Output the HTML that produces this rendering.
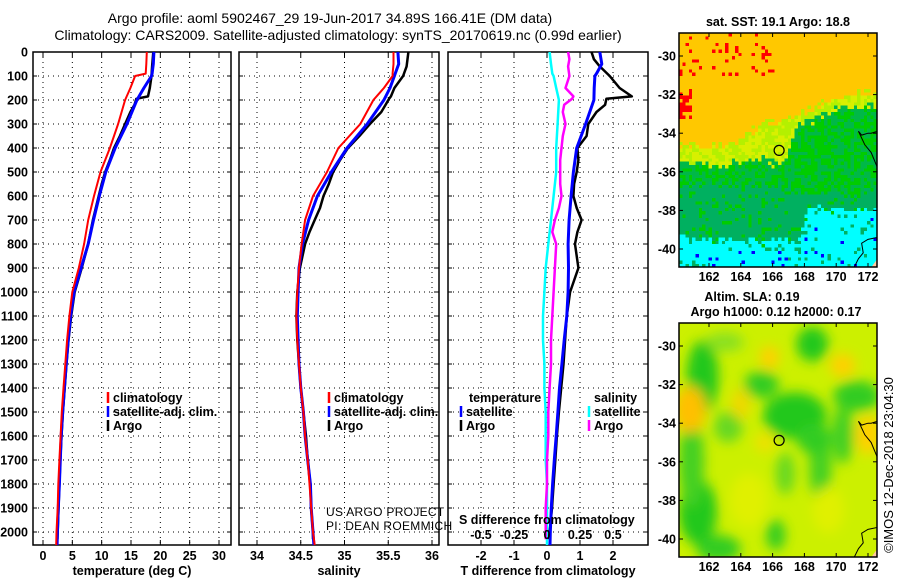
<!DOCTYPE html>
<html><head><meta charset="utf-8">
<style>
html,body{margin:0;padding:0;background:#fff;}
svg{display:block;font-family:"Liberation Sans",sans-serif;}
.b{font-weight:bold;font-size:12.5px;}
.t{font-size:14px;}
</style></head>
<body>
<svg id="c" width="900" height="580" viewBox="0 0 900 580">
<defs>
<filter id="bl" x="-30%" y="-30%" width="160%" height="160%"><feGaussianBlur stdDeviation="6"/></filter>
<clipPath id="m1clip"><rect x="679" y="33" width="198" height="234"/></clipPath>
<clipPath id="m2clip"><rect x="679" y="323" width="198" height="234"/></clipPath>
</defs>
<text class="t" x="330" y="23" text-anchor="middle">Argo profile: aoml 5902467_29 19-Jun-2017 34.89S 166.41E (DM data)</text>
<text class="t" x="338" y="40" text-anchor="middle">Climatology: CARS2009. Satellite-adjusted climatology: synTS_20170619.nc (0.99d earlier)</text>
<g id="plots"></g>
</svg>
<script>
// ---------- data ----------
const depthsT = [0,50,90,100,150,200,300,400,500,600,700,800,900,1000,1100,1200,1300,1400,1500,1600,1700,1800,1900,2000,2054];
const tempClim = [17.7,17.6,17.5,15.7,14.9,14.0,12.8,11.4,9.8,8.7,7.7,7.0,6.1,5.0,4.5,4.1,3.8,3.5,3.2,3.0,2.8,2.6,2.5,2.3,2.25];
const tempSat  = [18.9,18.8,18.6,18.5,17.2,16.0,14.3,12.3,10.7,9.6,8.6,7.7,6.5,5.3,4.7,4.3,3.95,3.65,3.35,3.1,2.95,2.8,2.6,2.45,2.4];
const depthsA = [0,30,60,100,150,185,195,220,250,300,350,400,450,500,550,600,650,700,750,800,900,1000,1100,1200,1300,1400,1500,1600,1700,1800,1900,2000,2030];
const tempArgo = [18.8,18.7,18.6,18.5,18.2,17.9,15.9,15.6,14.9,14.0,13.1,12.1,11.4,10.6,10.0,9.5,9.0,8.5,8.1,7.7,6.6,5.4,4.8,4.35,4.0,3.7,3.4,3.15,2.95,2.8,2.65,2.5,2.45];
const salClim = [35.56,35.56,35.55,35.55,35.45,35.33,35.18,34.93,34.80,34.64,34.55,34.51,34.48,34.46,34.45,34.46,34.48,34.50,34.53,34.55,34.58,34.60,34.62,34.64,34.66];
const salSat  = [35.61,35.62,35.58,35.57,35.52,35.45,35.26,35.03,34.85,34.69,34.59,34.52,34.48,34.47,34.46,34.47,34.48,34.50,34.53,34.55,34.58,34.61,34.62,34.64,34.65];
const salArgo = [35.73,35.72,35.71,35.67,35.57,35.53,35.51,35.47,35.42,35.29,35.17,35.04,34.95,34.87,34.82,34.76,34.72,34.66,34.60,34.55,34.49,34.46,34.45,34.46,34.48,34.50,34.53,34.56,34.58,34.61,34.62,34.64,34.64];
const dTsat  = [1.6,1.66,1.5,1.45,1.43,1.42,1.17,0.9,0.8,0.73,0.67,0.64,0.65,0.64,0.6,0.52,0.45,0.38,0.33,0.28,0.22,0.17,0.13,0.1,0.09];
const dSsat  = [0.02,0.03,0.04,0.05,0.07,0.09,0.08,0.07,0.07,0.05,0.03,0.01,-0.01,-0.02,-0.03,-0.03,-0.02,-0.02,-0.01,-0.01,-0.01,0.0,0.0,0.0,0.0];
const dTargo = [1.35,1.42,1.6,1.9,2.2,2.57,1.8,1.76,1.5,1.25,1.2,0.92,0.95,0.9,0.82,0.8,0.9,1.05,0.92,0.85,0.95,0.7,0.6,0.55,0.5,0.43,0.36,0.3,0.25,0.2,0.15,0.08,0.06];
const dSargo = [0.16,0.17,0.16,0.17,0.14,0.2,0.19,0.13,0.12,0.14,0.12,0.11,0.1,0.1,0.1,0.11,0.09,0.06,0.04,0.07,0.06,0.05,0.04,0.03,0.03,0.02,0.01,0.01,0.0,0.0,-0.01,-0.01,-0.01];
const depthTicks = [0,100,200,300,400,500,600,700,800,900,1000,1100,1200,1300,1400,1500,1600,1700,1800,1900,2000];
const tempTicks = [0,5,10,15,20,25,30];
const salTicks = [34,34.5,35,35.5,36];
const dTTicks = [-2,-1,0,1,2];
const dSTicks = [-0.5,-0.25,0,0.25,0.5];
const dSTickLabels = ["-0.5","-0.25","0","0.25","0.5"];
const latTicks = [-30,-32,-34,-36,-38,-40];
const lonTicks = [162,164,166,168,170,172];
const argoLon = 166.41, argoLat = -34.89;

// ---------- helpers ----------
const NS='http://www.w3.org/2000/svg';
const root=document.getElementById('plots');
function mk(tag,attrs,parent){const e=document.createElementNS(NS,tag);for(const k in attrs)e.setAttribute(k,attrs[k]);(parent||root).appendChild(e);return e;}
const Y0=52, Y1=545;
const yD = d => Y0 + d*0.24;
function lin(d0,d1,r0,r1){return v=>r0+(v-d0)*(r1-r0)/(d1-d0);}

function panel(name,x0,x1,xs,ticks,labels,title){
  const g=mk('g',{});
  
  
  depthTicks.forEach(d=>{const l=mk('line',{x1:x0,x2:x1,y1:yD(d),y2:yD(d),stroke:'#000','stroke-width':1,'stroke-dasharray':'1,4'},g);
    
    mk('line',{x1:x0,x2:x0+4,y1:yD(d),y2:yD(d),stroke:'#000'},g);mk('line',{x1:x1-4,x2:x1,y1:yD(d),y2:yD(d),stroke:'#000'},g);});
  ticks.forEach((v,i)=>{const x=xs(v);
    const l=mk('line',{x1:x,x2:x,y1:Y0,y2:Y1,stroke:'#000','stroke-width':1,'stroke-dasharray':'1,4'},g);
    
    mk('line',{x1:x,x2:x,y1:Y1-5,y2:Y1,stroke:'#000'},g);mk('line',{x1:x,x2:x,y1:Y0,y2:Y0+5,stroke:'#000'},g);
    const t=mk('text',{x:x,y:560,'text-anchor':'middle',class:'b'},g);t.textContent=labels[i];
    });
  const fr=mk('rect',{x:x0,y:Y0,width:x1-x0,height:Y1-Y0,fill:'none',stroke:'#000','stroke-width':1.5},g);
  
  const tt=mk('text',{x:(x0+x1)/2,y:575,'text-anchor':'middle',class:'b'},g);tt.textContent=title;
  
  return g;
}
function series(g,name,vals,depths,xs,color,w){
  const pts=vals.map((v,i)=>xs(v).toFixed(1)+','+yD(depths[i]).toFixed(1)).join(' ');
  const p=mk('polyline',{points:pts,fill:'none',stroke:color,'stroke-width':w,'stroke-linejoin':'round'},g);
  
  
}
function legend(g,x,y,items){
  items.forEach((it,i)=>{
    mk('line',{x1:x,x2:x,y1:y+i*14-10,y2:y+i*14+1,stroke:it[1],'stroke-width':2.5},g);
    const t=mk('text',{x:x+5,y:y+i*14,class:'b'},g);t.textContent=it[0];
    
  });
}

depthTicks.forEach(d=>{const t=mk('text',{x:28,y:yD(d)+4.5,'text-anchor':'end',class:'b'});t.textContent=d;
  });

const xT=lin(0,30,43,219);
const g1=panel('temperature-panel',33,231,xT,tempTicks,tempTicks.map(String),'temperature (deg C)');
series(g1,'temp-argo-line',tempArgo,depthsA,xT,'#000',2.5);
series(g1,'temp-satellite-line',tempSat,depthsT,xT,'#0000ff',3);
series(g1,'temp-climatology-line',tempClim,depthsT,xT,'#ff0000',2);
legend(g1,108,402,[['climatology','#ff0000'],['satellite-adj. clim.','#0000ff'],['Argo','#000']]);

const xS=lin(34,36,257,432);
const g2=panel('salinity-panel',239,439,xS,salTicks,['34','34.5','35','35.5','36'],'salinity');
series(g2,'sal-argo-line',salArgo,depthsA,xS,'#000',2.5);
series(g2,'sal-satellite-line',salSat,depthsT,xS,'#0000ff',3);
series(g2,'sal-climatology-line',salClim,depthsT,xS,'#ff0000',2);
legend(g2,329,402,[['climatology','#ff0000'],['satellite-adj. clim.','#0000ff'],['Argo','#000']]);
[['US ARGO PROJECT',516],['PI: DEAN ROEMMICH',530]].forEach(a=>{const t=mk('text',{x:326,y:a[1],'font-size':'12px','letter-spacing':'0.3','fill':'#000'},g2);t.textContent=a[0];
  });

const xdT=lin(0,2,547,613);
const xdS=lin(0,0.5,547,613);
const g3=panel('difference-panel',448,648,xdT,dTTicks,dTTicks.map(String),'T difference from climatology');
series(g3,'dS-satellite-line',dSsat,depthsT,xdS,'#00ffff',2.5);
series(g3,'dS-argo-line',dSargo,depthsA,xdS,'#ff00ff',2.5);
series(g3,'dT-argo-line',dTargo,depthsA,xdT,'#000',2.5);
series(g3,'dT-satellite-line',dTsat,depthsT,xdT,'#0000ff',3);
{const t=mk('text',{x:469,y:402,class:'b'},g3);t.textContent='temperature';}
{const t=mk('text',{x:594,y:402,class:'b'},g3);t.textContent='salinity';}
legend(g3,461,416,[['satellite','#0000ff'],['Argo','#000']]);
legend(g3,589,416,[['satellite','#00ffff'],['Argo','#ff00ff']]);
{const t=mk('text',{x:459,y:524,class:'b'},g3);t.textContent='S difference from climatology';}
dSTicks.forEach((v,i)=>{const t=mk('text',{x:xdS(v),y:539,'text-anchor':'middle',class:'b'},g3);t.textContent=dSTickLabels[i];
  });

// ---------- maps ----------
const mx=lin(162,172,709,868);
function hash(a,b){const s=Math.sin(a*127.1+b*311.7)*43758.5453;return s-Math.floor(s);}
function interp(xs,ys,x){if(x<=xs[0])return ys[0];for(let i=1;i<xs.length;i++){if(x<=xs[i])return ys[i-1]+(ys[i]-ys[i-1])*(x-xs[i-1])/(xs[i]-xs[i-1]);}return ys[ys.length-1];}
function mapFrame(name,top){
  const bot=top+234, my=lin(-30,-40,top+23,top+216);
  const g=mk('g',{});
  
  
  return {g,my,top,bot};
}
function mapAxes(M,clipId){
  const {g,my,top,bot}=M;
  const cg=mk('g',{'clip-path':'url(#'+clipId+')'},g);
  mk('polygon',{points:`${mx(172.2)},${my(-40.95)} ${mx(172.6)},${my(-40.5)} ${mx(172.6)},${my(-40.95)}`,fill:'#ffc8a0'},cg);
  mk('polyline',{points:[[171.4,-33.9],[171.6,-34.1],[172.0,-34.0],[172.2,-34.0],[172.6,-33.9]].map(p=>mx(p[0])+','+my(p[1])).join(' '),fill:'none',stroke:'#000'},cg);
  mk('polyline',{points:[[171.4,-33.9],[171.8,-34.6],[172.2,-35.0],[172.5,-35.6],[172.6,-35.8]].map(p=>mx(p[0])+','+my(p[1])).join(' '),fill:'none',stroke:'#000'},cg);
  mk('polyline',{points:[[171.1,-41],[171.4,-40.5],[171.7,-40.2],[171.6,-39.7],[172.0,-39.5],[172.6,-39.4]].map(p=>mx(p[0])+','+my(p[1])).join(' '),fill:'none',stroke:'#000'},cg);
  const c=mk('circle',{cx:mx(argoLon),cy:my(argoLat),r:5,fill:'none',stroke:'#000','stroke-width':1.2},g);
  
  mk('rect',{x:679,y:top,width:198,height:234,fill:'none',stroke:'#000','stroke-width':1.5},g);
  latTicks.forEach(v=>{const y=my(v);mk('line',{x1:679,x2:683,y1:y,y2:y,stroke:'#000'},g);mk('line',{x1:873,x2:877,y1:y,y2:y,stroke:'#000'},g);
    const t=mk('text',{x:676,y:y+4.5,'text-anchor':'end',class:'b'},g);t.textContent=v;});
  lonTicks.forEach(v=>{const x=mx(v);mk('line',{x1:x,x2:x,y1:top,y2:top+4,stroke:'#000'},g);mk('line',{x1:x,x2:x,y1:bot-4,y2:bot,stroke:'#000'},g);
    const t=mk('text',{x:x,y:bot+14,'text-anchor':'middle',class:'b'},g);t.textContent=v;});
}
// SST map (texture)
const M1=mapFrame('sst-map',33);
{const cg=mk('g',{'clip-path':'url(#m1clip)','shape-rendering':'crispEdges'},M1.g);
 const cs=3.3;
 const bL=[160,163.5,165,166.5,167.5,169.5,172.6], bO=[-34.6,-34.6,-33.6,-33.4,-33.0,-32.2,-31.8], bY=[0.9,0.9,1.6,2.2,0.6,0.6,0.6];
 const cL=[160,161,167.5,168.2,172.6], cB=[-39.3,-39.5,-39.5,-37.8,-37.9];
 for(let py=33;py<267;py+=cs){for(let px=679;px<877;px+=cs){
  const lon=160.1+(px-679)/15.9, lat=-28.8-(py-33)/19.3;
  const n=hash(Math.round(px/cs),Math.round(py/cs));
  const ob=interp(bL,bO,lon), yb=interp(bL,bY,lon);
  let col;
  const o=lat-ob + (n-0.5)*0.5;
  if(o>0.1) col = (n>0.9 && lat>-31 && lon<166) || (lon<160.8 && lat<-31.6 && lat>-33.2 && n>0.3) ? '#ff0000' : '#ffc800';
  else if(o>-yb) col = n>0.5?'#d8f000':'#b4f000';
  else {
   const gb = lon<167 ? -36.6 : -37;
   const cb = interp(cL,cB,lon);
   const l2=lat+(n-0.5)*0.5;
   if(l2>gb) col = n>0.5?'#00cc00':'#00b848';
   else if(l2>cb) col = n>0.85?'#00cc00':'#00b060';
   else col = n>0.97?'#0000ff':(n>0.9?'#00b060':'#00ffff');
  }
  mk('rect',{x:px.toFixed(1),y:py.toFixed(1),width:cs+0.4,height:cs+0.4,fill:col},cg);
 }}}
mapAxes(M1,'m1clip');
{const t=mk('text',{x:778,y:26,'text-anchor':'middle',class:'b'});t.textContent='sat. SST: 19.1 Argo: 18.8';}

// SLA map
const M2=mapFrame('sla-map',323);
{const cg=mk('g',{'clip-path':'url(#m2clip)'},M2.g);
 mk('rect',{x:679,y:323,width:198,height:234,fill:'#ccf000'},cg);
 const bg=mk('g',{filter:'url(#bl)'},cg);
 const my=M2.my, k=15.9, kl=19.3;
 const blobs=[
  [161.6,-31.6,1.0,1.9,'#22c81e'],[161.3,-38.6,1.2,1.7,'#22c81e'],[160.9,-36.0,0.8,2.4,'#44d020'],
  [167.4,-33.6,2.0,1.2,'#22c81e'],[165.3,-32.0,1.1,0.7,'#33cc22'],[168.5,-29.9,1.0,0.9,'#22c81e'],
  [169.0,-36.2,0.7,2.0,'#44d020'],[171.3,-32.6,1.5,0.8,'#33cc22'],[170.4,-34.6,0.7,1.5,'#44d020'],
  [166.2,-39.8,0.6,0.8,'#33cc22'],[162.6,-40.5,1.4,0.7,'#33cc22'],[166.8,-36.6,0.6,1.1,'#66d820'],
  [163.2,-34.2,0.9,0.8,'#66d820'],[168.6,-34.8,1.1,0.8,'#33cc22'],[163.0,-29.8,1.2,0.5,'#88e020'],
  [160.8,-33.3,1.0,1.2,'#ffc000'],[164.0,-33.0,0.6,0.8,'#f0d800'],[165.8,-30.6,0.6,0.6,'#ffd000'],
  [170.4,-31.0,0.8,0.6,'#ffd000'],[172.0,-34.6,0.8,1.0,'#ffd000'],[165.5,-35.0,0.6,0.5,'#f0e000'],
  [169.5,-38.5,1.0,1.2,'#e0f000'],[164.5,-38,1.2,1.4,'#e0f000']
 ];
 blobs.forEach(b=>mk('ellipse',{cx:mx(b[0]),cy:my(b[1]),rx:b[2]*k,ry:b[3]*kl,fill:b[4]},bg));
}
mapAxes(M2,'m2clip');
{const t=mk('text',{x:752,y:301,'text-anchor':'middle',class:'b'});t.textContent='Altim. SLA: 0.19';}
{const t=mk('text',{x:776,y:316,'text-anchor':'middle',class:'b'});t.textContent='Argo h1000: 0.12 h2000: 0.17';}
{const t=mk('text',{x:0,y:0,'text-anchor':'middle','font-size':'13px',transform:'translate(893,465) rotate(-90)'});t.textContent='©IMOS 12-Dec-2018 23:04:30';}
</script>
</body></html>
